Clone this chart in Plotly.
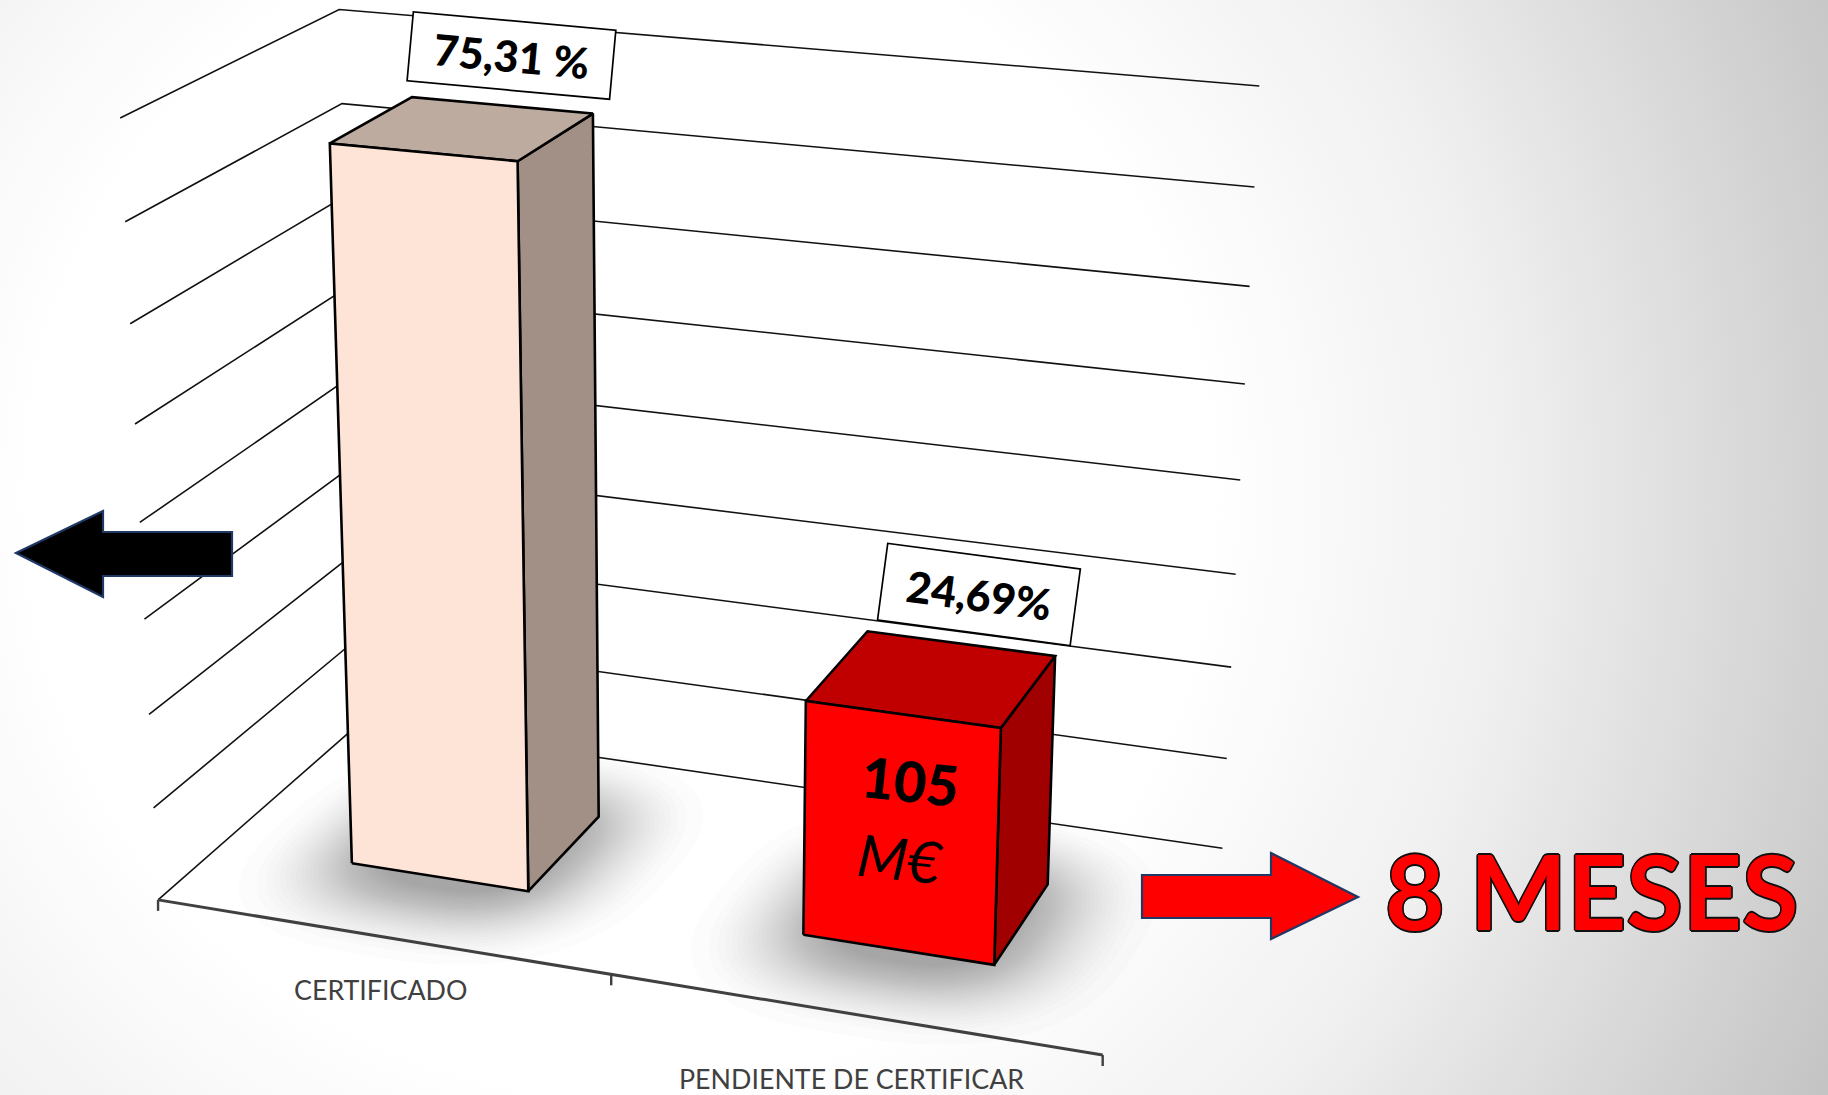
import base64
import numpy as np
import plotly.graph_objects as go

# ---- data ----
categories = ["CERTIFICADO", "PENDIENTE DE CERTIFICAR"]
values = [75.31, 24.69]
value_labels = ["75,31 %", "24,69%"]
value_ticks = [0, 10, 20, 30, 40, 50, 60, 70, 80]
inner_top = "105"
inner_bottom = "M€"
side_note = "8 MESES"

# ---- styles ----
W, H = 1828, 1095
S = W / 1568
front_cols = ["#FEE4D7", "#FF0000"]
side_cols = ["#A29086", "#A00000"]
top_cols = ["#BDABA0", "#C00000"]
BAR_WIDTH = 0.2
D0, D1 = 0.30, 0.70
FONT = "Lato"

# ---- camera: projective map (category pos u, depth d, value v) -> page pixels ----
camera_pts = [
    (0, 0, 0, 136, 772), (0, 0, 80, 103, 101), (0, 1, 0, 309, 620), (0, 1, 80, 291, 8),
    (1, 1, 0, 1049, 728), (1, 1, 80, 1080, 74), (1, 0, 0, 946, 905),
    (.15, .3, 0, 302, 741), (.35, .3, 0, 453, 765), (.35, .7, 0, 513, 700),
    (.15, .3, 75.31, 283, 123), (.35, .3, 75.31, 444, 138), (.35, .7, 75.31, 508, 98), (.15, .7, 75.31, 354, 83),
    (.65, .3, 0, 688, 801), (.85, .3, 0, 853, 827), (.85, .7, 0, 899, 758),
    (.65, .3, 24.69, 691, 602), (.85, .3, 24.69, 859, 625), (.85, .7, 24.69, 905, 563), (.65, .7, 24.69, 744, 541),
]
A, B = [], []
for u, d, v, px, py in camera_pts:
    X, Y = px * S, py * S
    A.append([u, d, v, 1, 0, 0, 0, 0, -X * u, -X * d, -X * v]); B.append(X)
    A.append([0, 0, 0, 0, u, d, v, 1, -Y * u, -Y * d, -Y * v]); B.append(Y)
m = np.linalg.lstsq(np.array(A, float), np.array(B, float), rcond=None)[0]


def P(u, d, v):
    w = m[8] * u + m[9] * d + m[10] * v + 1
    return (m[0] * u + m[1] * d + m[2] * v + m[3]) / w, (m[4] * u + m[5] * d + m[6] * v + m[7]) / w


def poly(pts):
    xy = [P(*p) for p in pts]
    return [q[0] for q in xy], [q[1] for q in xy]


fig = go.Figure()

# gridlines on left and back walls
for t in value_ticks:
    x, y = poly([(0, 0, t), (0, 1, t), (1, 1, t)])
    fig.add_trace(go.Scatter(x=x, y=y, mode="lines", line=dict(color="#111111", width=1.6),
                             name=str(t), hoverinfo="skip", showlegend=False))

# category axis with ticks
x, y = poly([(0, 0, 0), (1, 0, 0)])
fig.add_trace(go.Scatter(x=x, y=y, mode="lines", line=dict(color="#404040", width=3),
                         hoverinfo="skip", showlegend=False))
for i in range(len(categories) + 1):
    tx, ty = P(i / len(categories), 0, 0)
    fig.add_trace(go.Scatter(x=[tx, tx], y=[ty, ty + 11], mode="lines", line=dict(color="#404040", width=2.4),
                             hoverinfo="skip", showlegend=False))

# bars
for i, (cat, val) in enumerate(zip(categories, values)):
    c = (i + 0.5) / len(categories)
    u0, u1 = c - BAR_WIDTH / 2, c + BAR_WIDTH / 2
    faces = [
        ([(u1, D0, 0), (u1, D1, 0), (u1, D1, val), (u1, D0, val), (u1, D0, 0)], side_cols[i]),
        ([(u0, D0, val), (u1, D0, val), (u1, D1, val), (u0, D1, val), (u0, D0, val)], top_cols[i]),
        ([(u0, D0, 0), (u1, D0, 0), (u1, D0, val), (u0, D0, val), (u0, D0, 0)], front_cols[i]),
    ]
    for pts, col in faces:
        x, y = poly(pts)
        fig.add_trace(go.Scatter(x=x, y=y, mode="lines", fill="toself", fillcolor=col,
                                 line=dict(color="#000000", width=2.6), name=cat,
                                 hoverinfo="skip", showlegend=False))

# soft floor shadows, built as stacked translucent outlines below the traces
shapes = []
for i in range(len(categories)):
    c = (i + 0.5) / len(categories) + 0.005
    for t in np.linspace(0.0, 1.0, 34):
        r = 1.0 - 0.6 * t ** 0.6
        th = np.linspace(0, 2 * np.pi, 60, endpoint=False)
        e = 2 / 2.6
        us = c + 0.22 * r * np.sign(np.cos(th)) * np.abs(np.cos(th)) ** e
        ds = 0.47 + 0.56 * r * np.sign(np.sin(th)) * np.abs(np.sin(th)) ** e
        pts = [P(a, b, 0) for a, b in zip(us, ds)]
        path = "M" + "L".join(f"{p[0]:.1f},{p[1]:.1f}" for p in pts) + "Z"
        shapes.append(dict(type="path", path=path, xref="x", yref="y", layer="below",
                           fillcolor="rgba(90,90,90,0.015)", line=dict(width=0)))


def arrow(path, fill):
    return dict(type="path", path=path, xref="x", yref="y", layer="above", fillcolor=fill,
                line=dict(color="#1F3864", width=2.2))


shapes.append(arrow("M16,553 L103,511 L103,532 L232,532 L232,576 L103,576 L103,597 Z", "#000000"))
shapes.append(arrow("M1142,875 L1271,875 L1271,853 L1358,897 L1271,939 L1271,918 L1142,918 Z", "#FF0000"))

# annotations
outline = ", ".join(f"{a}px {b}px 0 #111" for a, b in
                    [(-1.6, 0), (1.6, 0), (0, -1.6), (0, 1.6), (-1.2, -1.2), (1.2, -1.2), (-1.2, 1.2), (1.2, 1.2)])
ann = [
    dict(x=511, y=55, text=value_labels[0], textangle=5.2, width=200, height=66,
         bgcolor="#FFFFFF", bordercolor="#000000", borderwidth=1.7,
         font=dict(size=43, color="#000", family=FONT, weight=900)),
    dict(x=979, y=594, text=value_labels[1], textangle=7.6, width=191, height=74,
         bgcolor="#FFFFFF", bordercolor="#000000", borderwidth=1.7,
         font=dict(size=43, color="#000", family=FONT, weight=900)),
    dict(x=910, y=780, text=inner_top, textangle=6, font=dict(size=56, color="#000", family=FONT, weight=900)),
    dict(x=900, y=857, text=inner_bottom, textangle=6, font=dict(size=58, color="#000", family=FONT, style="italic")),
    dict(x=1592, y=890, text=side_note, font=dict(size=103, color="#FF0000", family=FONT, weight=700, shadow=outline)),
]
for i, (cat, off) in enumerate(zip(categories, [54, 65])):
    px, py = P((i + 0.5) / len(categories), 0, 0)
    ann.append(dict(x=px, y=py + off, text=cat, font=dict(size=26.8, color="#404040", family=FONT)))
for a in ann:
    a.update(xref="x", yref="y", showarrow=False, xanchor="center", yanchor="middle")

svg = (f'<svg xmlns="http://www.w3.org/2000/svg" width="{W}" height="{H}">'
       '<defs><radialGradient id="g" gradientUnits="userSpaceOnUse" cx="620" cy="500" r="1340">'
       '<stop offset="0" stop-color="#ffffff"/><stop offset="0.44" stop-color="#ffffff"/>'
       '<stop offset="0.66" stop-color="#f0f0f0"/><stop offset="1" stop-color="#c4c4c4"/>'
       f'</radialGradient></defs><rect width="{W}" height="{H}" fill="url(#g)"/></svg>')
bg = "data:image/svg+xml;base64," + base64.b64encode(svg.encode()).decode()

fig.update_layout(
    width=W, height=H, margin=dict(l=0, r=0, t=0, b=0), showlegend=False,
    paper_bgcolor="#FFFFFF", plot_bgcolor="rgba(0,0,0,0)",
    xaxis=dict(range=[0, W], visible=False, fixedrange=True),
    yaxis=dict(range=[H, 0], visible=False, fixedrange=True),
    images=[dict(source=bg, xref="paper", yref="paper", x=0, y=1, sizex=1, sizey=1,
                 sizing="stretch", xanchor="left", yanchor="top", layer="below")],
    shapes=shapes, annotations=ann, font=dict(family=FONT),
)
fig.write_html("out.html", post_script="document.body.style.margin='0';", config={"displayModeBar": False})
